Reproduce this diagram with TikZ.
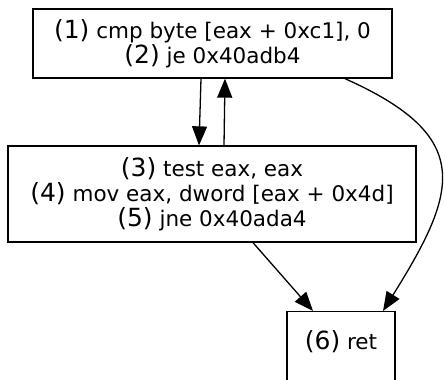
\documentclass[tikz,border=0pt]{standalone}
\usepackage{fontspec}
\setmainfont{DejaVu Sans}
\usepackage{tikz}
\usetikzlibrary{arrows.meta}
\newcommand{\stepnr}[1]{{\fontsize{25}{25}\selectfont(#1)}}

\begin{document}
\begin{tikzpicture}[x=1pt,y=-1pt,
  block/.style={draw, line width=1.3pt, rectangle, align=center, inner sep=0pt, font=\fontsize{21.5}{25}\selectfont},
  flow/.style={line width=1.3pt, -{Triangle[length=19pt,width=15pt]}}]
  \useasboundingbox (0,0) rectangle (445,380);

  % basic blocks
  \node[block, minimum width=359pt, minimum height=69pt] (bb1) at (212.5,43.5) {\stepnr{1} cmp byte [eax + 0xc1], 0\\\stepnr{2} je 0x40adb4};
  \node[block, minimum width=408pt, minimum height=96pt] (bb2) at (212,194) {\stepnr{3} test eax, eax\\\stepnr{4} mov eax, dword [eax + 0x4d]\\\stepnr{5} jne 0x40ada4};
  % ret block runs off the bottom edge
  \node[block, minimum width=108pt, text height=37.5pt, text depth=34pt, anchor=north] (bb6) at (341,311) {\stepnr{6} ret};

  % edges
  \draw[flow] ([xshift=-11.5pt]bb1.south) -- ([xshift=-13pt]bb2.north);
  \draw[flow] ([xshift=12pt]bb2.north) -- ([xshift=12.5pt]bb1.south);
  \draw[flow] ([xshift=41pt]bb2.south) -- ([xshift=-28pt]bb6.north);
  \draw[flow] ([xshift=132.5pt]bb1.south) .. controls +(130,58) and +(75,-120) .. ([xshift=42pt]bb6.north);
\end{tikzpicture}
\end{document}
